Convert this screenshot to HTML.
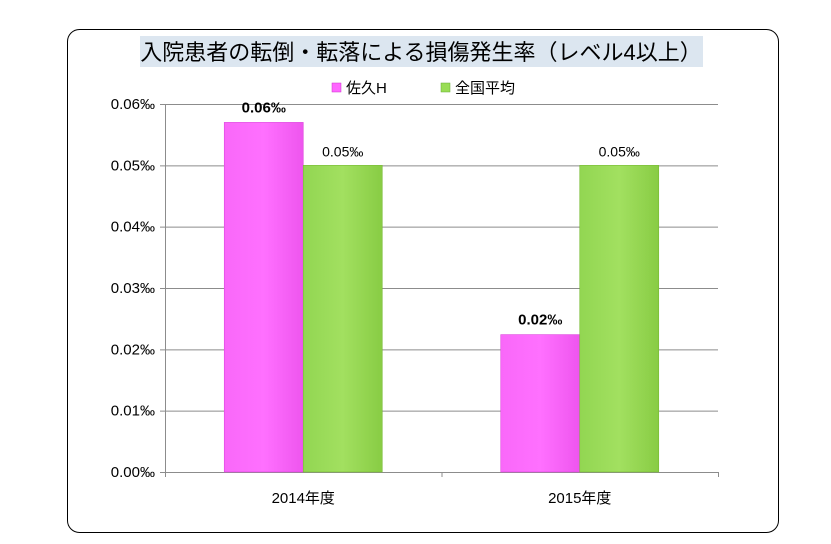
<!DOCTYPE html>
<html><head><meta charset="utf-8"><style>
body{margin:0;background:#fff;width:831px;height:539px;overflow:hidden;font-family:"Liberation Sans","Noto Sans CJK JP",sans-serif}
</style></head><body>
<svg width="831" height="539" xmlns="http://www.w3.org/2000/svg">
<defs>
<linearGradient id="gp" x1="0" x2="1"><stop offset="0" stop-color="#f968f9"/><stop offset="0.5" stop-color="#ff70ff"/><stop offset="1" stop-color="#ee55ee"/></linearGradient>
<linearGradient id="gg" x1="0" x2="1"><stop offset="0" stop-color="#92d652"/><stop offset="0.5" stop-color="#a2e060"/><stop offset="1" stop-color="#88cc44"/></linearGradient>
</defs>
<rect x="67.5" y="29.5" width="711" height="503" rx="12" fill="#fff" stroke="#000" stroke-width="1"/>
<rect x="140" y="36" width="563" height="31" fill="#dce6f0"/>
<text x="421" y="60" text-anchor="middle" font-size="22" fill="#000">入院患者の転倒・転落による損傷発生率（レベル4以上）</text>
<g>
<rect x="332" y="83" width="9" height="9" fill="#ff66ff" stroke="#cc33cc" stroke-width="0.5"/>
<text x="346" y="93" font-size="15">佐久H</text>
<rect x="441" y="83" width="9" height="9" fill="#99dd55" stroke="#66aa33" stroke-width="0.5"/>
<text x="455" y="93" font-size="15">全国平均</text>
</g>
<g id="grid"></g><g id="bars"></g><g id="labels"></g>
</svg>
<script>
const categories=["2014年度","2015年度"];
const sakuValues=[0.057,0.0224];
const nationalValues=[0.05,0.05];
const sakuLabels=["0.06‰","0.02‰"];
const nationalLabels=["0.05‰","0.05‰"];
const yTicks=[0,0.01,0.02,0.03,0.04,0.05,0.06];
const yTickLabels=["0.00‰","0.01‰","0.02‰","0.03‰","0.04‰","0.05‰","0.06‰"];
const NS="http://www.w3.org/2000/svg";
const x0=165,x1=718,y0=472,yTop=104,yMax=0.06;
function y(v){return y0-(v/yMax)*(y0-yTop);}
const band=(x1-x0)/categories.length;
function xc(i){return x0+band*(i+0.5);}
function mk(tag,attrs,parent){const e=document.createElementNS(NS,tag);for(const k in attrs)e.setAttribute(k,attrs[k]);parent.appendChild(e);return e;}
const grid=document.getElementById('grid'),bars=document.getElementById('bars'),labels=document.getElementById('labels');
yTicks.forEach((t,i)=>{
 const l=mk('line',{x1:x0-5,x2:x1,y1:y(t)+0.5,y2:y(t)+0.5,stroke:'#8c8c8c','stroke-width':1},grid);
 
 
 const tx=mk('text',{x:x0-10,y:y(t)+5,'text-anchor':'end','font-size':15},grid);
 tx.textContent=yTickLabels[i];
 
 
});
const ax=mk('line',{x1:x0+0.5,x2:x0+0.5,y1:yTop,y2:y0+5,stroke:'#8c8c8c'},grid);


categories.forEach((c,i)=>{
 const bw=79,cx=xc(i);
 const tk=mk('line',{x1:x0+band*(i+1)+0.5,x2:x0+band*(i+1)+0.5,y1:y0,y2:y0+5,stroke:'#8c8c8c'},grid);
 
 
 const b1=mk('rect',{x:cx-bw,y:y(sakuValues[i]),width:bw,height:y0-y(sakuValues[i]),fill:'url(#gp)',stroke:'#dd44dd','stroke-width':0.6},bars);
 
 
 const b2=mk('rect',{x:cx,y:y(nationalValues[i]),width:bw,height:y0-y(nationalValues[i]),fill:'url(#gg)',stroke:'#77bb33','stroke-width':0.6},bars);
 
 
 const l1=mk('text',{x:cx-bw/2,y:y(sakuValues[i])-10,'text-anchor':'middle','font-size':15,'font-weight':'bold'},labels);
 l1.textContent=sakuLabels[i];
 
 
 const l2=mk('text',{x:cx+bw/2,y:y(nationalValues[i])-9,'text-anchor':'middle','font-size':14},labels);
 l2.textContent=nationalLabels[i];
 
 
 const cl=mk('text',{x:cx,y:503,'text-anchor':'middle','font-size':15},labels);
 cl.textContent=c;
 
 
});
</script>
</body></html>
